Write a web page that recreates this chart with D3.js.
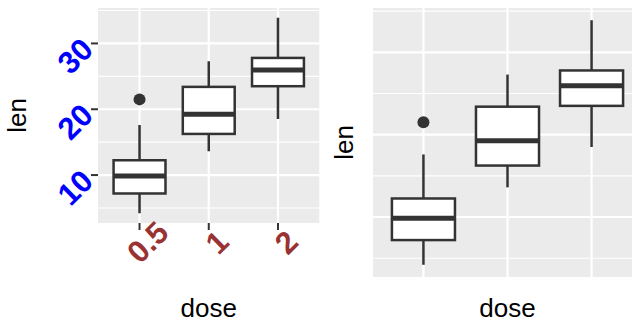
<!DOCTYPE html>
<html>
<head>
<meta charset="utf-8">
<script src="https://cdn.jsdelivr.net/npm/d3@7"></script>
<style>
  body { margin: 0; background: #ffffff; }
  svg { display: block; }
</style>
</head>
<body>
<div id="chart"></div>
<script>
// ToothGrowth: len by dose, boxplot summaries
var doses = ["0.5", "1", "2"];
var whiskerLow = [4.2, 13.6, 18.5];
var lowerQuartile = [7.2, 16.25, 23.5];
var medians = [9.85, 19.25, 25.95];
var upperQuartile = [12.25, 23.4, 27.8];
var whiskerHigh = [17.6, 27.3, 33.9];
var outliers = [[21.5], [], []];
var yTicks = [10, 20, 30];
var yMinorTicks = [5, 15, 25, 35];

var width = 632, height = 322;
var font = "'Liberation Sans', Arial, sans-serif";

var svg = d3.select("#chart")
  .append("svg")
  .attr("width", width)
  .attr("height", height);

var boxes = doses.map(function (d, i) {
  return {
    dose: d,
    lo: whiskerLow[i],
    q1: lowerQuartile[i],
    med: medians[i],
    q3: upperQuartile[i],
    hi: whiskerHigh[i],
    out: outliers[i]
  };
});

// y domain from data with ggplot's 5% expansion
var allVals = whiskerLow.concat(whiskerHigh, d3.merge(outliers));
var yMin = d3.min(allVals), yMax = d3.max(allVals);
var pad = (yMax - yMin) * 0.05;

function drawPanel(panel) {
  var g = svg.append("g");
  var left = panel.left, right = panel.right, top = panel.top, bottom = panel.bottom;

  // discrete x: 0.6 units of expansion on each side (like ggplot)
  var x = d3.scalePoint()
    .domain(doses)
    .range([left, right])
    .padding(0.6);

  var y = d3.scaleLinear()
    .domain([yMin - pad, yMax + pad])
    .range([bottom, top]);

  var clipId = "clip" + panel.id;
  svg.append("clipPath").attr("id", clipId)
    .append("rect")
    .attr("x", left).attr("y", top)
    .attr("width", right - left).attr("height", bottom - top);

  var p = g.append("g").attr("clip-path", "url(#" + clipId + ")");

  p.append("rect")
    .attr("x", left).attr("y", top)
    .attr("width", right - left).attr("height", bottom - top)
    .attr("fill", "#ebebeb");

  // minor grid
  p.selectAll(".minor")
    .data(yMinorTicks)
    .enter().append("line")
    .attr("x1", left).attr("x2", right)
    .attr("y1", function (d) { return y(d); })
    .attr("y2", function (d) { return y(d); })
    .attr("stroke", "#ffffff").attr("stroke-width", 1.1);

  // major grid
  p.selectAll(".majory")
    .data(yTicks)
    .enter().append("line")
    .attr("x1", left).attr("x2", right)
    .attr("y1", function (d) { return y(d); })
    .attr("y2", function (d) { return y(d); })
    .attr("stroke", "#ffffff").attr("stroke-width", 2.2);

  p.selectAll(".majorx")
    .data(doses)
    .enter().append("line")
    .attr("x1", function (d) { return x(d); })
    .attr("x2", function (d) { return x(d); })
    .attr("y1", top).attr("y2", bottom)
    .attr("stroke", "#ffffff").attr("stroke-width", 2.2);

  var boxW = x.step() * 0.75;
  var bx = p.selectAll(".box")
    .data(boxes)
    .enter().append("g");

  bx.append("line")
    .attr("x1", function (d) { return x(d.dose); })
    .attr("x2", function (d) { return x(d.dose); })
    .attr("y1", function (d) { return y(d.hi); })
    .attr("y2", function (d) { return y(d.q3); })
    .attr("stroke", "#333333").attr("stroke-width", 2.5);

  bx.append("line")
    .attr("x1", function (d) { return x(d.dose); })
    .attr("x2", function (d) { return x(d.dose); })
    .attr("y1", function (d) { return y(d.q1); })
    .attr("y2", function (d) { return y(d.lo); })
    .attr("stroke", "#333333").attr("stroke-width", 2.5);

  bx.append("rect")
    .attr("x", function (d) { return x(d.dose) - boxW / 2; })
    .attr("y", function (d) { return y(d.q3); })
    .attr("width", boxW)
    .attr("height", function (d) { return y(d.q1) - y(d.q3); })
    .attr("fill", "#ffffff")
    .attr("stroke", "#333333").attr("stroke-width", 2.5);

  bx.append("line")
    .attr("x1", function (d) { return x(d.dose) - boxW / 2; })
    .attr("x2", function (d) { return x(d.dose) + boxW / 2; })
    .attr("y1", function (d) { return y(d.med); })
    .attr("y2", function (d) { return y(d.med); })
    .attr("stroke", "#333333").attr("stroke-width", 5);

  bx.selectAll(".out")
    .data(function (d) { return d.out.map(function (v) { return { dose: d.dose, v: v }; }); })
    .enter().append("circle")
    .attr("cx", function (d) { return x(d.dose); })
    .attr("cy", function (d) { return y(d.v); })
    .attr("r", 6)
    .attr("fill", "#333333");

  if (panel.ticks) {
    // y ticks
    g.selectAll(".ytick")
      .data(yTicks)
      .enter().append("line")
      .attr("x1", left - 7).attr("x2", left)
      .attr("y1", function (d) { return y(d); })
      .attr("y2", function (d) { return y(d); })
      .attr("stroke", "#333333").attr("stroke-width", 2);

    g.selectAll(".ylab")
      .data(yTicks)
      .enter().append("text")
      .attr("transform", function (d) {
        return "translate(" + (left - 11) + "," + y(d) + ") rotate(-45)";
      })
      .attr("text-anchor", "end")
      .attr("dy", "0.36em")
      .style("font-family", font)
      .style("font-weight", "bold")
      .style("font-size", "31px")
      .attr("fill", "#0000ff")
      .text(function (d) { return d; });

    // x ticks
    g.selectAll(".xtick")
      .data(doses)
      .enter().append("line")
      .attr("x1", function (d) { return x(d); })
      .attr("x2", function (d) { return x(d); })
      .attr("y1", bottom).attr("y2", bottom + 7)
      .attr("stroke", "#333333").attr("stroke-width", 2);

    g.selectAll(".xlab")
      .data(doses)
      .enter().append("text")
      .attr("transform", function (d) {
        return "translate(" + x(d) + "," + (bottom + 11) + ") rotate(-45)";
      })
      .attr("text-anchor", "middle")
      .attr("dy", "0.72em")
      .style("font-family", font)
      .style("font-weight", "bold")
      .style("font-size", "31px")
      .attr("fill", "#993333")
      .text(function (d) { return d; });
  }

  // axis titles
  g.append("text")
    .attr("x", (left + Math.min(right, width)) / 2 + panel.titleShift)
    .attr("y", 317)
    .attr("text-anchor", "middle")
    .style("font-family", font)
    .style("font-size", "26px")
    .attr("fill", "#000000")
    .text("dose");

  g.append("text")
    .attr("transform", "translate(" + panel.ylabX + "," + (top + bottom) / 2 + ") rotate(-90)")
    .attr("text-anchor", "middle")
    .style("font-family", font)
    .style("font-size", "26px")
    .attr("fill", "#000000")
    .text("len");
}

drawPanel({ id: 1, left: 98, right: 319.5, top: 8, bottom: 223, ticks: true, ylabX: 26, titleShift: 0 });
drawPanel({ id: 2, left: 373, right: 642, top: 8, bottom: 277, ticks: false, ylabX: 353, titleShift: 5 });
</script>
</body>
</html>
